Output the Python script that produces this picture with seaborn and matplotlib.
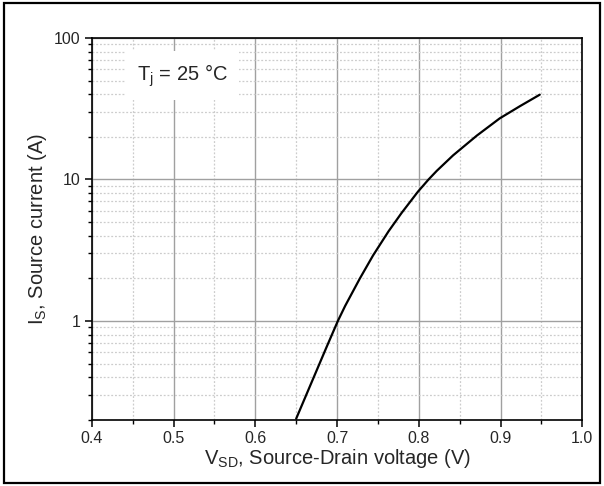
import numpy as np
import pandas as pd
import seaborn as sns
import matplotlib
matplotlib.use("Agg")
import matplotlib.pyplot as plt
from matplotlib.ticker import FixedLocator, MultipleLocator, LogLocator, NullFormatter, FixedFormatter
from matplotlib.patches import Rectangle

# Source-drain diode forward characteristic, Tj = 25 C
v_sd = [0.650, 0.669, 0.687, 0.701, 0.710, 0.728, 0.744, 0.763, 0.779, 0.799,
        0.812, 0.822, 0.842, 0.871, 0.899, 0.924, 0.948]
i_s = [0.204, 0.37, 0.65, 1.00, 1.28, 2.00, 2.90, 4.30, 5.80, 8.2,
       10.0, 11.5, 14.8, 20.4, 27.0, 33.0, 39.7]

x_ticks = [0.4, 0.5, 0.6, 0.7, 0.8, 0.9, 1.0]
x_labels = ["0.4", "0.5", "0.6", "0.7", "0.8", "0.9", "1.0"]
y_ticks = [1, 10, 100]
y_labels = ["1", "10", "100"]

df = pd.DataFrame({"Vsd": v_sd, "Is": i_s})

sns.set_style("white")
plt.rcParams['font.family'] = ['Liberation Sans', 'DejaVu Sans']
plt.rcParams['mathtext.fontset'] = 'custom'
plt.rcParams['mathtext.rm'] = 'Liberation Sans'
plt.rcParams['mathtext.it'] = 'Liberation Sans:italic'

fig = plt.figure(figsize=(6.04, 4.86), dpi=100)
ax = fig.add_axes([0.152, 0.136, 0.812, 0.786])

sns.lineplot(data=df, x="Vsd", y="Is", ax=ax, color="black", linewidth=1.6)

ax.set_yscale("log")
ax.set_xlim(0.4, 1.0)
ax.set_ylim(0.2, 100)

ax.xaxis.set_major_locator(FixedLocator(x_ticks))
ax.xaxis.set_major_formatter(FixedFormatter(x_labels))
ax.xaxis.set_minor_locator(MultipleLocator(0.05))
ax.yaxis.set_major_locator(FixedLocator(y_ticks))
ax.yaxis.set_major_formatter(FixedFormatter(y_labels))
ax.yaxis.set_minor_locator(LogLocator(base=10, subs=np.arange(2, 10)))
ax.yaxis.set_minor_formatter(NullFormatter())

ax.grid(True, which="major", color="#a0a0a0", linewidth=1.0, linestyle="-")
ax.grid(True, which="minor", color="#cccccc", linewidth=0.9, linestyle=(0, (1.5, 1.5)))
ax.set_axisbelow(True)

for s in ax.spines.values():
    s.set_color("black")
    s.set_linewidth(1.2)

ax.tick_params(which="major", direction="out", length=5, width=1.1, color="black",
               labelsize=11.5, pad=3, top=False, right=False, bottom=True, left=True)
ax.tick_params(which="minor", direction="out", length=3, width=1.0, color="black",
               top=False, right=False, bottom=True, left=True)

ax.set_xlabel(r"V$_{\mathregular{SD}}$, Source-Drain voltage (V)", fontsize=14.5, labelpad=1)
ax.set_ylabel(r"I$_{\mathregular{S}}$, Source current (A)", fontsize=14.5, labelpad=4)

ax.text(0.511, 54, r"T$_{\mathregular{j}}$ = 25 °C", fontsize=14.5, ha="center", va="center",
        bbox=dict(facecolor="white", edgecolor="none", pad=8))

fig.add_artist(Rectangle((0.006, 0.006), 0.988, 0.988, transform=fig.transFigure,
                         fill=False, edgecolor="black", linewidth=1.6))

fig.savefig("out.png", dpi=100)
